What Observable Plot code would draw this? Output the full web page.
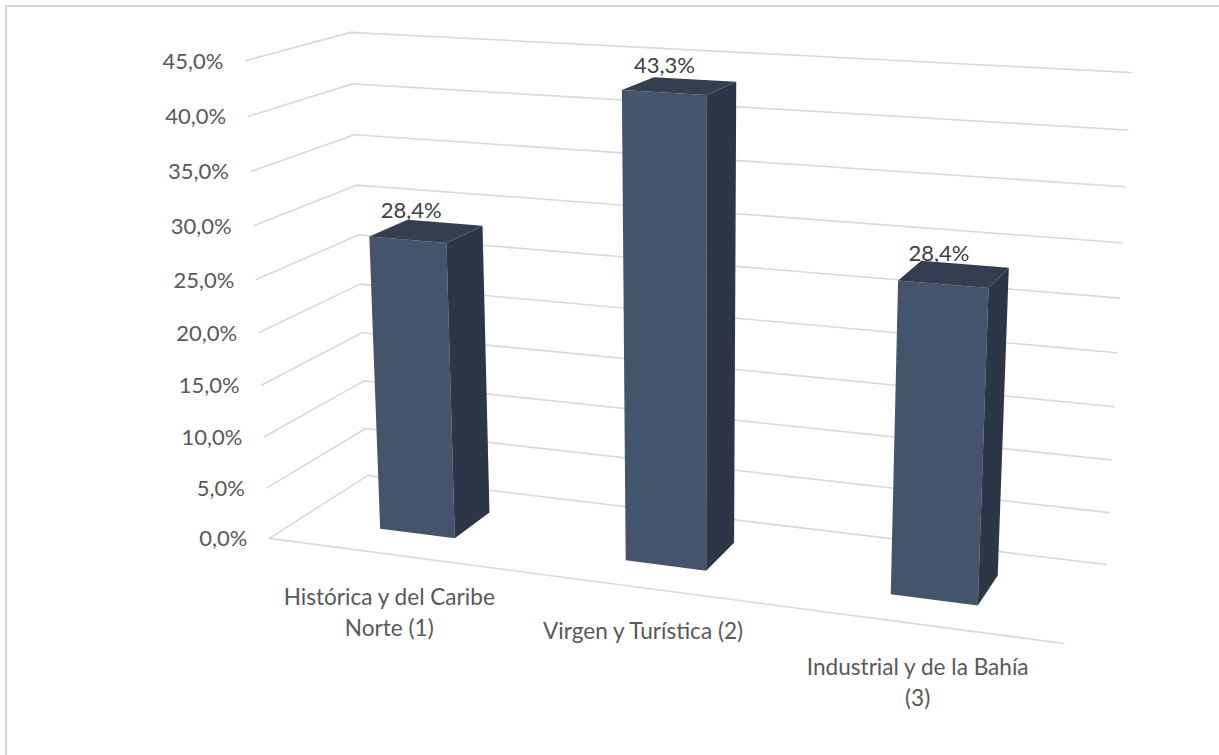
<!DOCTYPE html>
<html><head><meta charset="utf-8">
<script src="https://cdn.jsdelivr.net/npm/d3@7"></script>
<script src="https://cdn.jsdelivr.net/npm/@observablehq/plot@0.6"></script>
<style>
html,body{margin:0;padding:0;background:#fff;overflow:hidden}
#frame{position:absolute;left:5px;top:5px;right:0;bottom:0;border-top:2px solid #d9d9d9;border-left:2px solid #d9d9d9}
#chart{position:absolute;left:0;top:0}
</style></head><body>
<div id="frame"></div><div id="chart"></div>
<script>
const categories = ["Histórica y del Caribe\nNorte (1)", "Virgen y Turística (2)", "Industrial y de la Bahía\n(3)"];
const values = [28.4, 43.3, 28.4];
const ticks = [0, 5, 10, 15, 20, 25, 30, 35, 40, 45];
const axisMax = 45;
const calib = [
  [0,0,0,269,538],[0,1,0,367,475],[1,1,0,1106,564],[1,0,0,1063,643],
  [0,0,1,245,60],[0,1,1,350,32],[1,1,1,1130,72]
];
function solve(A,b){const n=b.length;const M=A.map((r,i)=>[...r,b[i]]);
  for(let i=0;i<n;i++){let p=i;for(let k=i+1;k<n;k++)if(Math.abs(M[k][i])>Math.abs(M[p][i]))p=k;[M[i],M[p]]=[M[p],M[i]];
    for(let k=0;k<n;k++){if(k===i)continue;const f=M[k][i]/M[i][i];for(let j=i;j<=n;j++)M[k][j]-=f*M[i][j];}}
  return M.map((r,i)=>r[n]/r[i]);}
const rows=[],rhs=[];
for(const [u,d,v,x,y] of calib){
  rows.push([u,d,v,1,0,0,0,0,-x*u,-x*d,-x*v]);rhs.push(x);
  rows.push([0,0,0,0,u,d,v,1,-y*u,-y*d,-y*v]);rhs.push(y);
}
const ata=rows[0].map((_,i)=>rows[0].map((_,j)=>d3.sum(rows,r=>r[i]*r[j])));
const atb=rows[0].map((_,i)=>d3.sum(rows,(r,k)=>r[i]*rhs[k]));
const P=solve(ata,atb);
function project(u,d,value){const v=value/axisMax;
  const w=P[8]*u+P[9]*d+P[10]*v+1;
  return [(P[0]*u+P[1]*d+P[2]*v+P[3])/w,(P[4]*u+P[5]*d+P[6]*v+P[7])/w];}

const barHalf=0.052, barShift=-0.001, d0=0.3, d1=0.693;
const grid=[];
for(const t of ticks){for(const [u,d] of [[0,0],[0,1],[1,1]]){const [x,y]=project(u,d,t);grid.push({t,x,y});}}
const frontLine=[[0,0,0],[1,0,0]].map(([u,d,t])=>{const [x,y]=project(u,d,t);return {x,y};});
const faces=[];
values.forEach((val,i)=>{const c=(i+.5)/categories.length+barShift,a=c-barHalf,b=c+barHalf;
  const add=(key,fill,corners)=>corners.forEach(([u,d,t])=>{const [x,y]=project(u,d,t);faces.push({key:key+i,fill,x,y});});
  add("front","#44546a",[[a,d0,0],[b,d0,0],[b,d0,val],[a,d0,val]]);
  add("side","#2b3746",[[b,d0,0],[b,d1,0],[b,d1,val],[b,d0,val]]);
  add("top","#333f50",[[a,d0,val],[b,d0,val],[b,d1,val],[a,d1,val]]);
});
const tickLabels=ticks.map(t=>{const [x,y]=project(0,0,t);return {x,y,text:t.toFixed(1).replace(".",",")+"%"};});
const dataLabels=values.map((val,i)=>{const [x,y]=project((i+.5)/categories.length,(d0+d1)/2,val);return {x,y,text:val.toFixed(1).replace(".",",")+"%"};});
const catLabels=categories.map((text,i)=>{const [x,y]=project((i+.5)/categories.length,0,0);return {x,y,text};});
const font="Lato";
const plot=Plot.plot({width:1219,height:755,margin:0,
  x:{domain:[0,1219],range:[0,1219],axis:null},y:{domain:[0,755],range:[0,755],axis:null},
  style:{background:"transparent",fontFamily:font},
  marks:[
    Plot.line(grid,{x:"x",y:"y",z:"t",stroke:"#d9d9d9",strokeWidth:1.6}),
    Plot.line(frontLine,{x:"x",y:"y",stroke:"#d9d9d9",strokeWidth:1.6}),
    Plot.line(faces,{x:"x",y:"y",z:"key",fill:"fill",stroke:"none"}),
    Plot.text(tickLabels,{x:"x",y:"y",text:"text",textAnchor:"end",dx:-22,dy:1,fontSize:22,fill:"#595959"}),
    Plot.text(dataLabels,{x:"x",y:"y",text:"text",dx:-16,dy:-20,fontSize:22,fill:"#404040"}),
    Plot.text(catLabels,{x:"x",y:"y",text:"text",lineAnchor:"top",dy:29,fontSize:22.6,lineHeight:1.37,fill:"#595959"})
  ]});
document.getElementById("chart").append(plot);
</script></body></html>
